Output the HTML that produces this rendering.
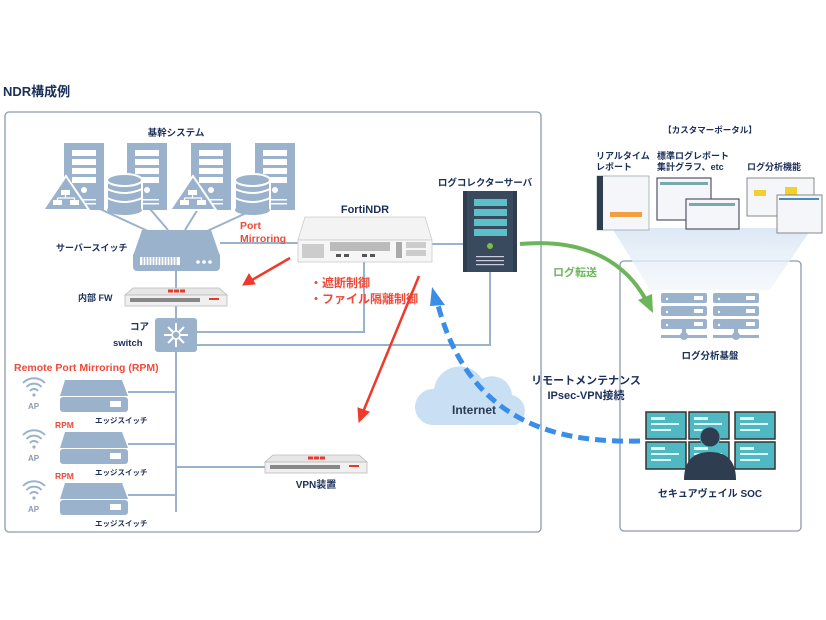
<!DOCTYPE html>
<html><head><meta charset="utf-8"><style>
html,body{margin:0;padding:0;background:#fff;width:826px;height:620px;overflow:hidden}
svg{display:block}
text{font-family:"Liberation Sans","Noto Sans CJK JP",sans-serif;font-weight:bold}
</style></head><body>
<svg width="826" height="620" viewBox="0 0 826 620" xmlns="http://www.w3.org/2000/svg">
<defs>
<linearGradient id="beam" x1="0" y1="0" x2="0" y2="1"><stop offset="0" stop-color="#dde8f5"/><stop offset="1" stop-color="#eef4fb" stop-opacity="0.6"/></linearGradient>
<g id="tower"><rect x="0" y="0" width="40" height="67" fill="#9bb2cc"/><rect x="8" y="7" width="24" height="6" fill="#fff"/><rect x="8" y="16" width="24" height="6" fill="#fff"/><rect x="8" y="25" width="24" height="6" fill="#fff"/><rect x="8" y="34" width="24" height="6" fill="#fff"/><circle cx="20" cy="47" r="3" fill="#fff"/><rect x="8" y="56" width="24" height="1.5" fill="#fff"/><rect x="8" y="60" width="24" height="1.5" fill="#fff"/></g>
<g id="db"><rect x="0" y="5" width="35" height="30" fill="#9bb2cc" stroke="#fff" stroke-width="2"/><ellipse cx="17.5" cy="5" rx="17.5" ry="6" fill="#9bb2cc" stroke="#fff" stroke-width="2"/><path d="M0,14 q17.5,8 35,0 M0,23 q17.5,8 35,0" fill="none" stroke="#fff" stroke-width="2"/><ellipse cx="17.5" cy="35" rx="17.5" ry="5" fill="#9bb2cc"/></g>
<g id="tri"><path d="M23,0 L46,34 L0,34 Z" fill="#9bb2cc" stroke="#fff" stroke-width="2"/><rect x="18" y="14" width="9" height="5" fill="#fff"/><rect x="10" y="24" width="9" height="5" fill="#fff"/><rect x="27" y="24" width="9" height="5" fill="#fff"/><path d="M22.5,19v3M14.5,22h17v2M14.5,22v2" stroke="#fff" stroke-width="1.2" fill="none"/></g>
<g id="edge"><path d="M5,0 H62 L68,16 H0 Z" fill="#9bb2cc"/><rect x="0" y="17" width="68" height="15" rx="3" fill="#9bb2cc"/><rect x="50" y="21" width="11" height="6" fill="#fff"/></g>
<g id="ap" fill="none" stroke="#9bb2cc" stroke-width="2"><path d="M-11,-4 a15,15 0 0 1 22,0"/><path d="M-7.5,0 a10,10 0 0 1 15,0"/><path d="M-4,4 a5,5 0 0 1 8,0"/><circle cx="0" cy="8" r="1.6" fill="#9bb2cc" stroke="none"/></g>
<g id="fw"><path d="M8,0 H94 L102,7 H0 Z" fill="#e6e6e6" stroke="#bbb" stroke-width="0.8"/><rect x="0" y="7" width="102" height="11" fill="#f0f0f0" stroke="#bbb" stroke-width="0.8"/><rect x="43" y="1.5" width="5" height="3" fill="#e53a2c"/><rect x="49" y="1.5" width="5" height="3" fill="#e53a2c"/><rect x="55" y="1.5" width="5" height="3" fill="#e53a2c"/><rect x="5" y="10" width="70" height="4" fill="#888"/><rect x="84" y="10" width="10" height="2" fill="#e53a2c"/></g>
<g id="mon"><rect width="40" height="27" fill="#4fb8c3" stroke="#333" stroke-width="1.5"/><rect x="5" y="5" width="14" height="3" fill="#dff"/><rect x="5" y="11" width="28" height="2" fill="#dff"/><rect x="5" y="17" width="20" height="2" fill="#dff"/></g>
<g id="lsrv" fill="#9bb2cc"><rect x="0" y="0" width="46" height="10" rx="2"/><rect x="0" y="13" width="46" height="10" rx="2"/><rect x="0" y="26" width="46" height="10" rx="2"/><rect x="21" y="36" width="4" height="8"/><rect x="0" y="42" width="46" height="3"/><circle cx="23" cy="43" r="4"/><rect x="33" y="3" width="9" height="4" fill="#fff"/><rect x="33" y="16" width="9" height="4" fill="#fff"/><rect x="33" y="29" width="9" height="4" fill="#fff"/><circle cx="6" cy="6" r="1.2" fill="#fff"/><circle cx="6" cy="19" r="1.2" fill="#fff"/><circle cx="6" cy="32" r="1.2" fill="#fff"/></g>
</defs>

<text x="3" y="96" font-size="13" fill="#1c2f5a">NDR構成例</text>
<rect x="5" y="112" width="536" height="420" rx="4" fill="none" stroke="#8a9ab0" stroke-width="1.3"/>
<rect x="620" y="261" width="181" height="270" rx="4" fill="none" stroke="#8a9ab0" stroke-width="1.3"/>

<path d="M612,228 H812 L770,290 H650 Z" fill="url(#beam)"/>

<g stroke="#9bb2cc" stroke-width="2" fill="none">
<path d="M100,209 L150,232 M150,209 L168,230 M198,209 L185,230 M255,209 L205,232"/>
<path d="M176,270 V290 M176,305 V320 M176,352 V512"/>
<path d="M220,243 H298"/>
<path d="M364,262 V332 H197"/>
<path d="M197,345 H490 V272"/>
<path d="M432,244 H463"/>
<path d="M128,392 H176 M128,444 H176 M128,495 H176 M176,467 H265"/>
</g>

<text x="176" y="136" font-size="9.5" fill="#1c2f5a" text-anchor="middle">基幹システム</text>
<use href="#tower" x="64" y="143"/><use href="#tri" x="43" y="176"/>
<use href="#tower" x="127" y="143"/><use href="#db" x="107" y="175"/>
<use href="#tower" x="191" y="143"/><use href="#tri" x="170" y="176"/>
<use href="#tower" x="255" y="143"/><use href="#db" x="235" y="175"/>

<path d="M142,230 H211 L220,256 H133 Z" fill="#9bb2cc"/>
<rect x="133" y="252" width="87" height="19" rx="4" fill="#9bb2cc"/>
<g fill="#fff"><rect x="140" y="257" width="40" height="8"/></g>
<g stroke="#9bb2cc" stroke-width="1.2"><path d="M143,257v8M146,257v8M149,257v8M152,257v8M155,257v8M158,257v8M161,257v8M164,257v8M167,257v8M170,257v8M173,257v8M176,257v8"/></g>
<circle cx="198" cy="262" r="1.8" fill="#fff"/><circle cx="204" cy="262" r="1.8" fill="#fff"/><circle cx="210" cy="262" r="1.8" fill="#fff"/>
<text x="56" y="251" font-size="9" fill="#1c2f5a">サーバースイッチ</text>

<use href="#fw" x="125" y="288"/>
<text x="78" y="301" font-size="9" fill="#1c2f5a">内部 FW</text>

<rect x="155" y="318" width="42" height="34" rx="3" fill="#9bb2cc"/>
<g stroke="#fff" stroke-width="2"><path d="M164,335 H188 M176,323 V347 M168,327 L184,343 M184,327 L168,343"/></g>
<circle cx="176" cy="335" r="4" fill="#9bb2cc" stroke="#fff" stroke-width="1.5"/>
<text x="130" y="330" font-size="9.5" fill="#1c2f5a">コア</text>
<text x="113" y="346" font-size="9.5" fill="#1c2f5a">switch</text>

<text x="14" y="371" font-size="10.5" fill="#ee4a3a" font-weight="normal">Remote Port Mirroring (RPM)</text>
<use href="#edge" x="60" y="380"/><use href="#edge" x="60" y="432"/><use href="#edge" x="60" y="483"/>
<use href="#ap" x="34" y="387"/><use href="#ap" x="34" y="439"/><use href="#ap" x="34" y="490"/>
<g font-size="8" fill="#8a9ab0" font-weight="normal"><text x="28" y="409">AP</text><text x="28" y="461">AP</text><text x="28" y="512">AP</text></g>
<g font-size="7.5" fill="#1c2f5a"><text x="95" y="423">エッジスイッチ</text><text x="95" y="475">エッジスイッチ</text><text x="95" y="526">エッジスイッチ</text></g>
<g font-size="8.5" fill="#ee4a3a" font-weight="normal"><text x="55" y="428">RPM</text><text x="55" y="479">RPM</text></g>

<use href="#fw" x="265" y="455"/>
<text x="316" y="488" font-size="10" fill="#1c2f5a" text-anchor="middle" font-weight="normal">VPN装置</text>

<text x="365" y="213" font-size="11" fill="#1c2f5a" text-anchor="middle">FortiNDR</text>
<path d="M305,217 H425 L432,240 H298 Z" fill="#f3f3f3" stroke="#ccc" stroke-width="0.8"/>
<rect x="298" y="240" width="134" height="22" fill="#f6f6f6" stroke="#ccc" stroke-width="0.8"/>
<rect x="302" y="244" width="22" height="14" fill="#ccc"/>
<rect x="330" y="242" width="60" height="9" fill="#bbb"/>
<rect x="396" y="242" width="6" height="16" fill="#aaa"/>
<rect x="406" y="242" width="20" height="6" fill="#ccc"/><rect x="406" y="250" width="20" height="6" fill="#ccc"/>
<g fill="#555"><rect x="336" y="254" width="5" height="3"/><rect x="344" y="254" width="5" height="3"/><rect x="362" y="254" width="5" height="3"/><rect x="370" y="254" width="5" height="3"/></g>
<text x="240" y="229" font-size="10.5" fill="#ee4a3a" font-weight="normal">Port</text>
<text x="240" y="242" font-size="10.5" fill="#ee4a3a" font-weight="normal">Mirroring</text>
<text x="310" y="287" font-size="12" fill="#ee4a3a" font-weight="normal">・遮断制御</text>
<text x="310" y="303" font-size="12" fill="#ee4a3a" font-weight="normal">・ファイル隔離制御</text>

<g stroke="#ee3a2c" stroke-width="2.5" fill="#ee3a2c">
<path d="M290,258 L252,280"/><path d="M243,285 L249,274 L255,284 Z" stroke-width="1"/>
<path d="M419,276 L363,412"/><path d="M359,422 L358,408 L369,412 Z" stroke-width="1"/>
</g>

<text x="485" y="186" font-size="9.5" fill="#1c2f5a" text-anchor="middle">ログコレクターサーバ</text>
<rect x="463" y="191" width="54" height="81" fill="#2e3d4f"/>
<rect x="467" y="191" width="46" height="81" fill="#3a4a5e"/>
<g fill="#5bc0c8"><rect x="474" y="199" width="33" height="7"/><rect x="474" y="209" width="33" height="7"/><rect x="474" y="219" width="33" height="7"/><rect x="474" y="229" width="33" height="7"/></g>
<circle cx="490" cy="246" r="3" fill="#7bc043"/>
<g fill="#ccd"><rect x="476" y="256" width="28" height="1.2"/><rect x="476" y="260" width="28" height="1.2"/><rect x="476" y="264" width="28" height="1.2"/></g>

<path d="M432,425 a18,18 0 0 1 2,-36 a26,26 0 0 1 48,-10 a20,20 0 0 1 30,16 a16,16 0 0 1 4,30 Z" fill="#c9e0f4"/>
<text x="474" y="414" font-size="12" fill="#2a3a55" text-anchor="middle" font-weight="normal">Internet</text>

<path d="M640,441 C560,443 470,425 438,305" fill="none" stroke="#3a8ee8" stroke-width="5" stroke-dasharray="11,6"/>
<path d="M432,287 L445,305 L430,306 Z" fill="#3a8ee8"/>
<text x="586" y="384" font-size="11" fill="#1c2f5a" text-anchor="middle" font-weight="normal">リモートメンテナンス</text>
<text x="586" y="399" font-size="11" fill="#1c2f5a" text-anchor="middle" font-weight="normal">IPsec-VPN接続</text>

<path d="M520,244 C585,238 625,262 646,300" fill="none" stroke="#6db55a" stroke-width="4"/>
<path d="M653,313 L638,300 L652,294 Z" fill="#6db55a"/>
<text x="553" y="276" font-size="11" fill="#6db55a">ログ転送</text>

<text x="710" y="133" font-size="8.5" fill="#1c2f5a" text-anchor="middle">【カスタマーポータル】</text>
<g font-size="9" fill="#1c2f5a"><text x="596" y="159">リアルタイム</text><text x="596" y="170">レポート</text><text x="657" y="159">標準ログレポート</text><text x="657" y="170">集計グラフ、etc</text><text x="747" y="170">ログ分析機能</text></g>
<rect x="597" y="176" width="52" height="54" fill="#f4f6f9" stroke="#9aa" stroke-width="0.8"/><rect x="597" y="176" width="6" height="54" fill="#2e3d4f"/><rect x="610" y="212" width="32" height="5" fill="#f0a040"/>
<rect x="657" y="178" width="54" height="42" fill="#f4f6f9" stroke="#556" stroke-width="1.2"/><rect x="660" y="182" width="48" height="3" fill="#7aa"/>
<rect x="686" y="199" width="53" height="30" fill="#f4f6f9" stroke="#556" stroke-width="1.2"/><rect x="689" y="203" width="46" height="3" fill="#7aa"/>
<rect x="747" y="178" width="67" height="38" fill="#f4f6f9" stroke="#888" stroke-width="1"/><rect x="754" y="190" width="12" height="6" fill="#f3d030"/><rect x="785" y="187" width="12" height="8" fill="#f3d030"/>
<rect x="777" y="195" width="45" height="38" fill="#f4f6f9" stroke="#888" stroke-width="1"/><rect x="779" y="198" width="40" height="2" fill="#4a8cb8"/>

<use href="#lsrv" x="661" y="293"/><use href="#lsrv" x="713" y="293"/>
<text x="710" y="359" font-size="9.5" fill="#1c2f5a" text-anchor="middle">ログ分析基盤</text>

<use href="#mon" x="646" y="412"/><use href="#mon" x="689" y="412"/><use href="#mon" x="735" y="412"/>
<use href="#mon" x="646" y="442"/><use href="#mon" x="689" y="442"/><use href="#mon" x="735" y="442"/>
<circle cx="710" cy="437" r="10" fill="#2e3d4f" stroke="#4fb8c3" stroke-width="1"/>
<path d="M684,480 q0,-28 26,-28 q26,0 26,28 Z" fill="#2e3d4f"/>
<text x="710" y="497" font-size="10" fill="#1c2f5a" text-anchor="middle">セキュアヴェイル SOC</text>
</svg>
</body></html>
